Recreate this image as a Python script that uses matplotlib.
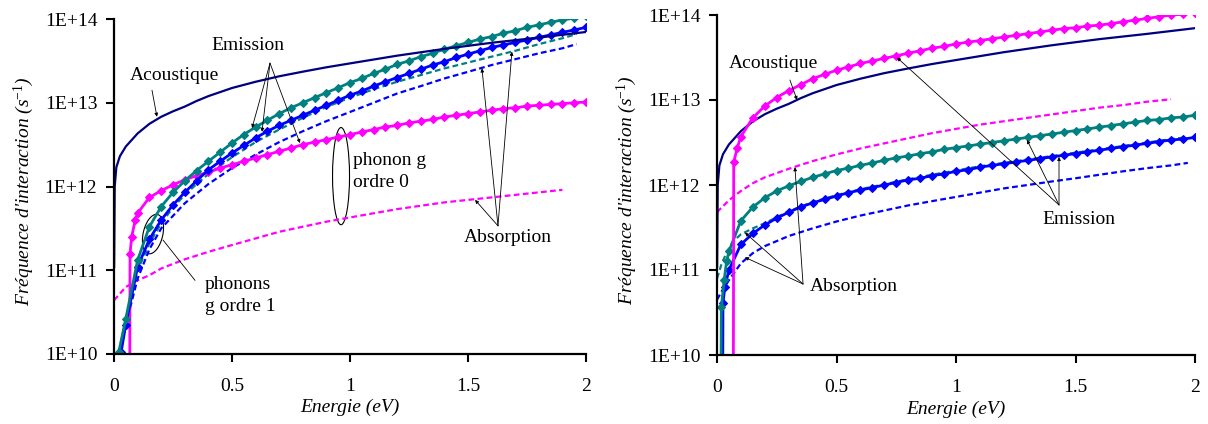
import matplotlib
matplotlib.use("Agg")
import matplotlib.pyplot as plt
from matplotlib.patches import Ellipse
from matplotlib.ticker import NullLocator, FixedLocator, FixedFormatter

plt.rcParams['font.family'] = ['Liberation Serif', 'DejaVu Serif']
plt.rcParams['mathtext.fontset'] = 'custom'
plt.rcParams['mathtext.rm'] = 'Liberation Serif'
plt.rcParams['mathtext.it'] = 'Liberation Serif:italic'

# ---------------- data ----------------
x_ticks = [0, 0.5, 1, 1.5, 2]
x_tick_labels = ['0', '0.5', '1', '1.5', '2']
y_ticks = [1e10, 1e11, 1e12, 1e13, 1e14]
y_tick_labels = ['1E+10', '1E+11', '1E+12', '1E+13', '1E+14']

E_GRID = [0.05, 0.10, 0.15, 0.20, 0.25, 0.30, 0.35, 0.40, 0.45, 0.50,
          0.55, 0.60, 0.65, 0.70, 0.75, 0.80, 0.85, 0.90, 0.95, 1.00,
          1.05, 1.10, 1.15, 1.20, 1.25, 1.30, 1.35, 1.40, 1.45, 1.50,
          1.55, 1.60, 1.65, 1.70, 1.75, 1.80, 1.85, 1.90, 1.95, 2.00]

# Acoustic (same on both panels)
ac_E = [0.0005, 0.003, 0.01, 0.025, 0.05, 0.1, 0.15, 0.2, 0.25, 0.3, 0.35, 0.4, 0.5, 0.6,
        0.7, 0.8, 0.9, 1.0, 1.2, 1.4, 1.6, 1.8, 2.0]
ac_V = [1.1e11, 1.0e12, 1.7e12, 2.3e12, 3.0e12, 4.3e12, 5.6e12, 6.8e12, 7.9e12, 9.0e12,
        1.05e13, 1.2e13, 1.5e13, 1.78e13, 2.07e13, 2.35e13, 2.65e13, 2.95e13, 3.65e13,
        4.4e13, 5.2e13, 6.0e13, 7.0e13]

# ---- left panel ----
L_teal_em_E = [0.015, 0.02] + E_GRID
L_teal_em_V = [1e9, 1.05e10,
               2.63e10, 1.32e11, 3.31e11, 5.75e11, 8.51e11, 1.17e12, 1.55e12, 2.0e12, 2.57e12, 3.31e12,
               4.17e12, 5.13e12, 6.17e12, 7.41e12, 8.71e12, 1.0e13, 1.15e13, 1.32e13, 1.51e13, 1.74e13,
               1.95e13, 2.24e13, 2.51e13, 2.88e13, 3.16e13, 3.55e13, 3.89e13, 4.37e13, 4.79e13, 5.25e13,
               5.75e13, 6.17e13, 6.76e13, 7.24e13, 7.94e13, 8.51e13, 9.12e13, 9.77e13, 1.02e14, 1.10e14]

L_blue_em_E = [0.025, 0.03] + E_GRID
L_blue_em_V = [1e9, 1.05e10,
               2.24e10, 1.10e11, 2.34e11, 3.98e11, 6.03e11, 8.51e11, 1.17e12, 1.58e12, 2.0e12, 2.51e12,
               3.09e12, 3.80e12, 4.57e12, 5.37e12, 6.17e12, 7.08e12, 8.13e12, 9.33e12, 1.07e13, 1.23e13,
               1.38e13, 1.58e13, 1.78e13, 2.0e13, 2.24e13, 2.51e13, 2.82e13, 3.09e13, 3.47e13, 3.80e13,
               4.17e13, 4.57e13, 4.90e13, 5.25e13, 5.62e13, 6.03e13, 6.46e13, 6.92e13, 7.41e13, 7.94e13]

L_teal_ab_E = [0.015, 0.02, 0.05, 0.1, 0.15, 0.2, 0.25, 0.3, 0.35, 0.4, 0.5, 0.6, 0.7,
               0.8, 0.9, 1.0, 1.1, 1.2, 1.3, 1.4, 1.5, 1.6, 1.7, 1.8, 1.9, 1.96]
L_teal_ab_V = [1e9, 1.0e10, 2.63e10, 1.0e11, 2.09e11, 3.63e11, 5.62e11, 7.94e11, 1.07e12,
               1.41e12, 2.24e12, 3.39e12, 4.79e12, 6.61e12, 8.91e12, 1.15e13, 1.45e13, 1.78e13,
               2.14e13, 2.57e13, 3.02e13, 3.55e13, 4.17e13, 5.01e13, 5.89e13, 6.61e13]

L_blue_ab_E = [0.015, 0.02, 0.05, 0.1, 0.15, 0.2, 0.3, 0.4, 0.5, 0.6, 0.7, 0.8, 0.9, 1.0,
               1.1, 1.2, 1.3, 1.4, 1.5, 1.6, 1.7, 1.8, 1.9, 1.96]
L_blue_ab_V = [1e9, 1.0e10, 2.24e10, 7.94e10, 1.78e11, 3.16e11, 6.31e11, 1.07e12, 1.66e12,
               2.40e12, 3.39e12, 4.57e12, 6.03e12, 7.76e12, 1.0e13, 1.29e13, 1.58e13, 1.95e13,
               2.34e13, 2.82e13, 3.31e13, 3.89e13, 4.47e13, 5.01e13]

L_mag_em_E = [0.066, 0.068, 0.075, 0.09] + E_GRID[1:]
L_mag_em_V = [1e9, 1.58e11, 2.51e11, 3.98e11,
              4.79e11, 7.41e11, 8.91e11, 1.05e12, 1.20e12, 1.35e12, 1.48e12, 1.66e12, 1.82e12,
              2.0e12, 2.19e12, 2.40e12, 2.63e12, 2.88e12, 3.16e12, 3.39e12, 3.63e12, 3.89e12, 4.17e12,
              4.47e12, 4.79e12, 5.13e12, 5.37e12, 5.75e12, 6.03e12, 6.31e12, 6.76e12, 7.08e12, 7.41e12,
              7.76e12, 8.13e12, 8.51e12, 8.71e12, 9.12e12, 9.33e12, 9.55e12, 9.77e12, 1.0e13, 1.02e13]

L_mag_ab_E = [0.0, 0.05, 0.1, 0.15, 0.2, 0.3, 0.4, 0.5, 0.6, 0.7, 0.8, 0.9, 1.0, 1.1, 1.2,
              1.3, 1.4, 1.5, 1.6, 1.7, 1.8, 1.9]
L_mag_ab_V = [4.37e10, 6.31e10, 7.59e10, 8.71e10, 1.05e11, 1.35e11, 1.66e11, 2.0e11, 2.40e11,
              2.88e11, 3.31e11, 3.80e11, 4.27e11, 4.79e11, 5.37e11, 5.89e11, 6.46e11, 6.92e11,
              7.41e11, 7.94e11, 8.51e11, 9.12e11]

# ---- right panel ----
R_mag_em_E = [0.068, 0.07, 0.085] + E_GRID[1:]
R_mag_em_V = [1e9, 1.86e12, 2.75e12,
              3.72e12, 6.17e12, 8.51e12, 1.07e13, 1.29e13, 1.51e13, 1.78e13, 2.0e13, 2.24e13,
              2.45e13, 2.69e13, 2.88e13, 3.09e13, 3.31e13, 3.55e13, 3.80e13, 4.07e13, 4.27e13, 4.57e13,
              4.79e13, 5.01e13, 5.25e13, 5.50e13, 5.75e13, 6.03e13, 6.31e13, 6.61e13, 6.92e13, 7.08e13,
              7.41e13, 7.59e13, 7.94e13, 8.32e13, 8.71e13, 9.12e13, 9.55e13, 1.0e14, 1.02e14, 1.07e14]

R_mag_ab_E = [0.0, 0.05, 0.1, 0.15, 0.2, 0.3, 0.4, 0.5, 0.6, 0.7, 0.8, 0.9, 1.0, 1.1, 1.2,
              1.3, 1.4, 1.5, 1.6, 1.7, 1.8, 1.9]
R_mag_ab_V = [4.79e11, 6.61e11, 8.51e11, 1.05e12, 1.23e12, 1.55e12, 1.91e12, 2.29e12, 2.69e12,
              3.09e12, 3.55e12, 4.07e12, 4.57e12, 5.13e12, 5.62e12, 6.17e12, 6.76e12, 7.41e12,
              8.13e12, 8.71e12, 9.55e12, 1.02e13]

R_teal_em_E = [0.016, 0.018, 0.03, 0.04] + E_GRID
R_teal_em_V = [1e9, 3.63e10, 7.59e10, 1.26e11,
               1.66e11, 3.80e11, 5.50e11, 7.08e11, 8.51e11, 9.77e11, 1.10e12, 1.23e12, 1.35e12, 1.48e12,
               1.58e12, 1.70e12, 1.82e12, 1.95e12, 2.09e12, 2.19e12, 2.34e12, 2.45e12, 2.63e12, 2.75e12,
               2.88e12, 3.02e12, 3.16e12, 3.31e12, 3.47e12, 3.63e12, 3.80e12, 3.98e12, 4.17e12, 4.37e12,
               4.57e12, 4.79e12, 5.01e12, 5.25e12, 5.50e12, 5.75e12, 5.89e12, 6.17e12, 6.31e12, 6.61e12]

R_blue_em_E = [0.023, 0.025, 0.033] + E_GRID
R_blue_em_V = [1e9, 4.07e10, 6.31e10,
               1.0e11, 2.0e11, 2.69e11, 3.39e11, 4.07e11, 4.79e11, 5.50e11, 6.17e11, 6.76e11, 7.41e11,
               8.13e11, 8.71e11, 9.33e11, 1.0e12, 1.07e12, 1.15e12, 1.20e12, 1.29e12, 1.35e12, 1.45e12,
               1.51e12, 1.62e12, 1.70e12, 1.78e12, 1.86e12, 1.95e12, 2.04e12, 2.14e12, 2.24e12, 2.34e12,
               2.45e12, 2.57e12, 2.69e12, 2.82e12, 2.95e12, 3.09e12, 3.24e12, 3.39e12, 3.47e12, 3.63e12]

R_teal_ab_E = [0.0, 0.02, 0.04, 0.06, 0.08, 0.1, 0.15, 0.2, 0.3, 0.4, 0.5, 0.6, 0.7, 0.8, 0.9,
               1.0, 1.1, 1.2, 1.3, 1.4, 1.5, 1.6, 1.7, 1.8, 1.9, 1.96]
R_teal_ab_V = [7.94e10, 1.20e11, 1.58e11, 2.0e11, 2.34e11, 2.63e11, 3.09e11, 3.55e11, 4.90e11,
               6.31e11, 7.59e11, 8.91e11, 1.02e12, 1.17e12, 1.32e12, 1.48e12, 1.66e12, 1.82e12,
               2.0e12, 2.19e12, 2.40e12, 2.63e12, 2.88e12, 3.16e12, 3.47e12, 3.63e12]

R_blue_ab_E = [0.0, 0.02, 0.05, 0.1, 0.15, 0.2, 0.3, 0.4, 0.5, 0.6, 0.7, 0.8, 0.9, 1.0, 1.1,
               1.2, 1.3, 1.4, 1.5, 1.6, 1.7, 1.8, 1.9, 1.97]
R_blue_ab_V = [4.47e10, 5.62e10, 7.59e10, 1.20e11, 1.58e11, 1.91e11, 2.51e11, 3.09e11, 3.72e11,
               4.37e11, 5.01e11, 5.75e11, 6.46e11, 7.24e11, 8.13e11, 9.12e11, 1.0e12, 1.10e12,
               1.20e12, 1.32e12, 1.45e12, 1.58e12, 1.70e12, 1.82e12]

NAVY, TEAL, BLUE, MAG = '#000080', '#008080', '#0000FF', '#FF00FF'
FS = 14

fig = plt.figure(figsize=(12.08, 4.24), dpi=100)
axL = fig.add_axes([114/1208, 1-354/424, 472/1208, 335/424])
axR = fig.add_axes([717/1208, 1-355/424, 478/1208, 340/424])

mk = dict(marker='D', markersize=4.3, lw=2.0, markeredgewidth=0.8)
dash = dict(lw=1.6, linestyle=(0, (2.6, 1.5)))


def style(ax, ylx):
    ax.set_yscale('log')
    ax.set_xlim(0, 2)
    ax.set_ylim(1e10, 1e14)
    ax.yaxis.set_major_locator(FixedLocator(y_ticks))
    ax.yaxis.set_major_formatter(FixedFormatter(y_tick_labels))
    ax.yaxis.set_minor_locator(NullLocator())
    ax.set_xticks(x_ticks)
    ax.set_xticklabels(x_tick_labels)
    for s in ['top', 'right']:
        ax.spines[s].set_visible(False)
    for s in ['left', 'bottom']:
        ax.spines[s].set_linewidth(1.6)
    ax.tick_params(axis='both', direction='out', length=6, width=1.5,
                   labelsize=FS, pad=6)
    ax.tick_params(axis='x', pad=11)
    ax.set_xlabel('Energie (eV)', fontsize=FS, style='italic')
    ax.set_ylabel("Fréquence d'interaction (s$^{\\mathit{-1}}$)", fontsize=FS, style='italic')
    ax.xaxis.set_label_coords(0.5, -0.16)
    ax.xaxis.label.set_va('center')
    ax.yaxis.set_label_coords(ylx, 0.485)
    ax.yaxis.label.set_va('center')
    ax.patch.set_visible(False)


def arrow(ax, tip, start):
    ax.annotate('', xy=tip, xytext=start,
                arrowprops=dict(arrowstyle='-|>', lw=0.6, color='black',
                                mutation_scale=5, shrinkA=0, shrinkB=0))


# ---------------- left panel ----------------
axL.plot(L_mag_ab_E, L_mag_ab_V, color=MAG, **dash)
axL.plot(L_blue_ab_E, L_blue_ab_V, color=BLUE, **dash)
axL.plot(L_teal_ab_E, L_teal_ab_V, color=TEAL, **dash)
axL.plot(L_mag_em_E, L_mag_em_V, color=MAG, **mk)
axL.plot(L_blue_em_E, L_blue_em_V, color=BLUE, **mk)
axL.plot(L_teal_em_E, L_teal_em_V, color=TEAL, **mk)
axL.plot(ac_E, ac_V, color=NAVY, lw=1.6)
style(axL, -0.19)

axL.text(0.568, 4.8e13, 'Emission', fontsize=FS, ha='center', va='center')
for tip in [(0.585, 5.0e12), (0.627, 4.5e12), (0.788, 3.3e12)]:
    arrow(axL, tip, (0.661, 2.97e13))
axL.text(0.258, 2.09e13, 'Acoustique', fontsize=FS, ha='center', va='center')
arrow(axL, (0.182, 6.8e12), (0.161, 1.41e13))
axL.text(1.013, 1.5e12, 'phonon g\nordre 0', fontsize=FS, ha='left', va='center',
         linespacing=1.35)
axL.add_patch(Ellipse((0.481, 0.531), 0.036, 0.29, transform=axL.transAxes,
                      fill=False, lw=0.8, color='black'))
axL.text(1.669, 2.43e11, 'Absorption', fontsize=FS, ha='center', va='center')
for tip in [(1.559, 2.57e13), (1.686, 4.07e13), (1.53, 6.92e11)]:
    arrow(axL, tip, (1.627, 3.39e11))
axL.text(0.386, 5.0e10, 'phonons\ng ordre 1', fontsize=FS, ha='left', va='center',
         linespacing=1.35)
axL.add_patch(Ellipse((0.0826, 0.358), 0.042, 0.119, angle=-8, transform=axL.transAxes,
                      fill=False, lw=0.8, color='black'))
axL.plot([0.343, 0.208], [7.59e10, 2.29e11], color='black', lw=0.6)

# ---------------- right panel ----------------
axR.plot(R_mag_ab_E, R_mag_ab_V, color=MAG, **dash)
axR.plot(R_blue_ab_E, R_blue_ab_V, color=BLUE, **dash)
axR.plot(R_teal_ab_E, R_teal_ab_V, color=TEAL, **dash)
axR.plot(R_blue_em_E, R_blue_em_V, color=BLUE, **mk)
axR.plot(R_teal_em_E, R_teal_em_V, color=TEAL, **mk)
axR.plot(ac_E, ac_V, color=NAVY, lw=1.6)
axR.plot(R_mag_em_E, R_mag_em_V, color=MAG, **mk)
style(axR, -0.188)

axR.text(0.238, 2.72e13, 'Acoustique', fontsize=FS, ha='center', va='center')
arrow(axR, (0.335, 1.0e13), (0.305, 1.72e13))
axR.text(1.515, 3.98e11, 'Emission', fontsize=FS, ha='center', va='center')
for tip in [(1.297, 3.39e12), (1.431, 2.14e12), (0.753, 3.16e13)]:
    arrow(axR, tip, (1.431, 5.82e11))
axR.text(0.573, 6.46e10, 'Absorption', fontsize=FS, ha='center', va='center')
for tip in [(0.117, 2.75e11), (0.117, 1.41e11), (0.326, 1.62e12)]:
    arrow(axR, tip, (0.36, 6.84e10))

fig.savefig('out.png', dpi=100)
